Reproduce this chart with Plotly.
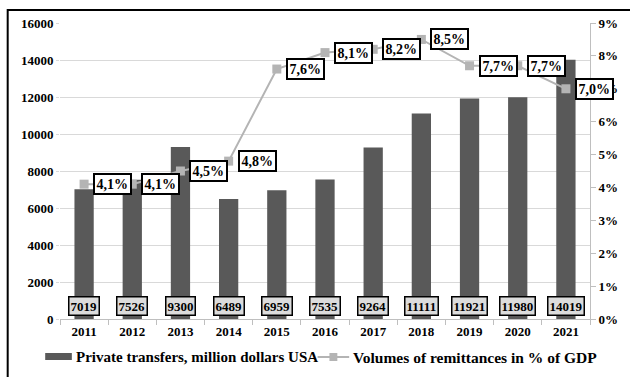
import plotly.graph_objects as go

# Data
years = ["2011", "2012", "2013", "2014", "2015", "2016", "2017", "2018", "2019", "2020", "2021"]
transfers = [7019, 7526, 9300, 6489, 6959, 7535, 9264, 11111, 11921, 11980, 14019]
remit_pct = [4.1, 4.1, 4.5, 4.8, 7.6, 8.1, 8.2, 8.5, 7.7, 7.7, 7.0]

bar_name = "Private transfers, million dollars USA"
line_name = "Volumes of remittances in % of GDP"

FONT = "Liberation Serif, Tinos, DejaVu Serif, serif"
BAR_COLOR = "#595959"
LINE_COLOR = "#b4b4b4"
GRID = "#d9d9d9"

# plot area in pixels: x 60..597, y 23..319
W, H = 630, 377
L, R, T, B = 60, 33, 23, 58
PW, PH = W - L - R, H - T - B


def px(x):
    return (x - L) / PW


def py(y):
    return (H - B - y) / PH


def bold(s):
    return f"<b>{s}</b>"


fig = go.Figure()

fig.add_trace(go.Bar(
    x=years, y=transfers, name=bar_name,
    marker=dict(color=BAR_COLOR, line=dict(width=0)),
    width=0.4, yaxis="y", showlegend=False,
))

fig.add_trace(go.Scatter(
    x=years, y=remit_pct, name=line_name, mode="lines+markers",
    line=dict(color=LINE_COLOR, width=2),
    marker=dict(symbol="square", size=9, color=LINE_COLOR),
    yaxis="y2", showlegend=False,
))

annotations = []
# value boxes at the foot of each bar (x given as category index)
for i, v in enumerate(transfers):
    annotations.append(dict(
        x=i, xref="x", y=py(306), yref="paper", yanchor="middle",
        text=bold(v), showarrow=False,
        font=dict(family=FONT, size=13, color="black"),
        bgcolor="#dcdcdc", bordercolor="black", borderwidth=1.5, borderpad=1,
    ))
# percentage boxes next to each marker
for i, v in enumerate(remit_pct):
    annotations.append(dict(
        x=i, xref="x", y=v, yref="y2", xanchor="left", yanchor="middle",
        xshift=9,
        text=bold(f"{v:.1f}".replace(".", ",") + "%"), showarrow=False,
        font=dict(family=FONT, size=14, color="black"),
        bgcolor="white", bordercolor="black", borderwidth=2, borderpad=1.5,
    ))

# legend drawn below the axis
legend_y = py(357)
annotations.append(dict(
    x=px(74), xref="paper", y=legend_y, yref="paper", xanchor="left", yanchor="middle",
    text=bold(bar_name), showarrow=False,
    font=dict(family=FONT, size=15, color="black"),
))
annotations.append(dict(
    x=px(355), xref="paper", y=legend_y, yref="paper", xanchor="left", yanchor="middle",
    text=bold(line_name), showarrow=False,
    font=dict(family=FONT, size=15.5, color="black"),
))

shapes = [
    # outer frame
    dict(type="rect", xref="paper", yref="paper",
         x0=px(7), x1=px(660), y0=py(400), y1=py(10),
         line=dict(color="black", width=2), fillcolor="rgba(0,0,0,0)", layer="below"),
    # legend symbols
    dict(type="rect", xref="paper", yref="paper",
         x0=px(45), x1=px(72), y0=py(360), y1=py(353),
         line=dict(width=0), fillcolor=BAR_COLOR),
    dict(type="line", xref="paper", yref="paper",
         x0=px(321), x1=px(353), y0=legend_y, y1=legend_y,
         line=dict(color=LINE_COLOR, width=2)),
    dict(type="rect", xref="paper", yref="paper",
         x0=px(333), x1=px(341), y0=py(361), y1=py(353),
         line=dict(width=0), fillcolor=LINE_COLOR),
]

tick_font = dict(family=FONT, size=13, color="black", weight="bold")

fig.update_layout(
    width=W, height=H,
    margin=dict(l=L, r=R, t=T, b=B),
    paper_bgcolor="white", plot_bgcolor="white",
    annotations=annotations, shapes=shapes,
    xaxis=dict(
        type="category", range=[-0.5, len(years) - 0.5], autorange=False,
        tickson="boundaries", ticks="outside", ticklen=5, tickangle=0,
        tickcolor="#bfbfbf", showline=True, linecolor="#bfbfbf", linewidth=1,
        showgrid=False, tickfont=tick_font,
    ),
    yaxis=dict(
        range=[0, 16000], dtick=2000, tickformat="d", showgrid=True,
        gridcolor=GRID, gridwidth=1,
        ticks="outside", ticklen=3, tickcolor=GRID, showline=False,
        zeroline=False, tickfont=tick_font,
    ),
    yaxis2=dict(
        range=[0, 9], dtick=1, ticksuffix="%", overlaying="y", side="right",
        showgrid=False, zeroline=False, showline=True, linecolor="#bfbfbf",
        ticks="outside", ticklen=5, tickcolor="#bfbfbf", tickfont=tick_font,
    ),
    bargap=0.6,
)

fig.write_html("out.html")
